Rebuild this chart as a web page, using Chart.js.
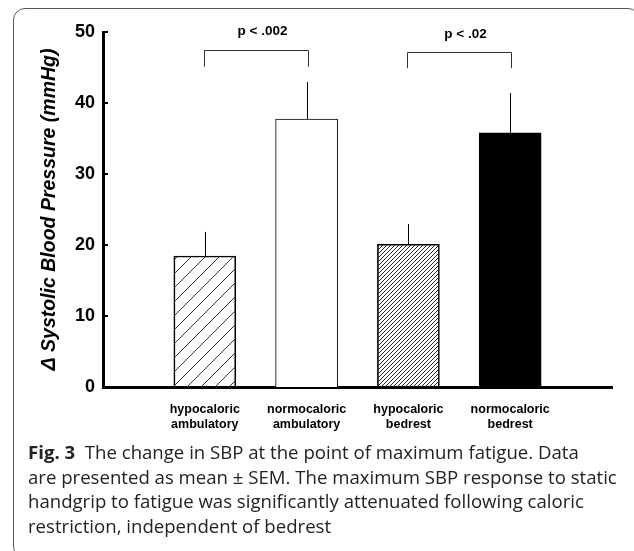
<!DOCTYPE html>
<html><head><meta charset="utf-8">
<script src="https://cdn.jsdelivr.net/npm/chart.js"></script>
<style>
html,body{margin:0;padding:0;background:#fff;width:634px;height:551px;overflow:hidden;}
#frame{position:absolute;left:13px;top:8px;width:627px;height:550px;border:1.5px solid #555;border-radius:12px;box-sizing:border-box;}
#chart{position:absolute;left:0;top:0;}
#cap{position:absolute;left:28px;top:440px;width:610px;white-space:nowrap;font-family:"Open Sans",sans-serif;font-size:18.6px;line-height:24.5px;color:#222;}
#cap b{font-weight:700;}
</style></head>
<body>
<div id="frame"></div>
<canvas id="chart" width="634" height="440"></canvas>
<div id="cap"><b>Fig. 3</b>&nbsp; The change in SBP at the point of maximum fatigue. Data<br>are presented as mean ± SEM. The maximum SBP response to static<br>handgrip to fatigue was significantly attenuated following caloric<br>restriction, independent of bedrest</div>
<script>
const categories = ['', ['hypocaloric','ambulatory'], ['normocaloric','ambulatory'], ['hypocaloric','bedrest'], ['normocaloric','bedrest'], ''];
const meanSBP = [null, 18.45, 37.75, 20.1, 35.8, null];
const semSBP  = [null, 3.4, 5.2, 2.85, 5.6, null];
const yTickValues = [0, 10, 20, 30, 40, 50];
const bracketFrom = [1, 3];
const bracketTo = [2, 4];
const bracketTop = [47.5, 47.2];
const bracketLeg = [45.1, 44.9];
const bracketLabels = ['p < .002', 'p < .02'];
const bracketLabelValue = [50.1, 49.7];

function hatch(size, color, width) {
  const c = document.createElement('canvas');
  c.width = size; c.height = size;
  const g = c.getContext('2d');
  g.strokeStyle = color; g.lineWidth = width;
  g.beginPath();
  g.moveTo(0, size); g.lineTo(size, 0);
  g.moveTo(-1, 1); g.lineTo(1, -1);
  g.moveTo(size - 1, size + 1); g.lineTo(size + 1, size - 1);
  g.stroke();
  return document.getElementById('chart').getContext('2d').createPattern(c, 'repeat');
}
const sparse = hatch(14, '#333', 1);
const dense = hatch(4, '#222', 1);

const overlay = {
  id: 'overlay',
  afterDatasetsDraw(chart) {
    const ctx = chart.ctx, y = chart.scales.y, x = chart.scales.x, area = chart.chartArea;
    const meta = chart.getDatasetMeta(0);
    ctx.save();
    ctx.strokeStyle = '#000'; ctx.lineWidth = 1;
    meanSBP.forEach((m, i) => {
      if (m == null) return;
      const bx = Math.round(meta.data[i].x) + 0.5;
      ctx.beginPath();
      ctx.moveTo(bx, y.getPixelForValue(m));
      ctx.lineTo(bx, y.getPixelForValue(m + semSBP[i]));
      ctx.stroke();
    });
    ctx.lineWidth = 2;
    yTickValues.forEach(v => {
      if (v === 0) return;
      const py = Math.round(y.getPixelForValue(v));
      ctx.beginPath();
      ctx.moveTo(area.left, py); ctx.lineTo(area.left + 5, py);
      ctx.stroke();
    });
    ctx.strokeStyle = '#333'; ctx.lineWidth = 1;
    ctx.fillStyle = '#000';
    ctx.font = 'bold 13.5px Arial, "Liberation Sans", sans-serif';
    ctx.textAlign = 'center'; ctx.textBaseline = 'middle';
    bracketFrom.forEach((f, k) => {
      const x1 = Math.round(x.getPixelForValue(f)) - 0.5;
      const x2 = Math.round(x.getPixelForValue(bracketTo[k])) + 1.5;
      const yt = Math.round(y.getPixelForValue(bracketTop[k])) + 0.5;
      const yl = y.getPixelForValue(bracketLeg[k]);
      ctx.beginPath();
      ctx.moveTo(x1, yl); ctx.lineTo(x1, yt); ctx.lineTo(x2, yt); ctx.lineTo(x2, yl);
      ctx.stroke();
      ctx.fillText(bracketLabels[k], (x1 + x2) / 2 + 6, y.getPixelForValue(bracketLabelValue[k]));
    });
    ctx.restore();
  }
};

new Chart(document.getElementById('chart'), {
  type: 'bar',
  data: {
    labels: categories,
    datasets: [{
      data: meanSBP,
      backgroundColor: [null, sparse, '#fff', dense, '#000', null],
      borderColor: '#000',
      borderWidth: 1,
      barThickness: 62
    }]
  },
  options: {
    responsive: false,
    animation: false,
    events: [],
    layout: { padding: { top: 32, right: 22, left: 0, bottom: 0 } },
    plugins: { legend: { display: false }, tooltip: { enabled: false } },
    scales: {
      x: {
        type: 'category',
        offset: false,
        grid: { display: false, drawTicks: false },
        border: { display: true, width: 3, color: '#000' },
        ticks: { color: '#000', font: { family: 'Arial, "Liberation Sans", sans-serif', weight: 'bold', size: 12.5, lineHeight: 1.2 }, padding: 15, maxRotation: 0, autoSkip: false },
        afterFit: s => { s.height = 53; }
      },
      y: {
        min: 0, max: 50,
        afterBuildTicks: s => { s.ticks = yTickValues.map(v => ({ value: v })); },
        grid: { display: false, drawTicks: false },
        border: { display: true, width: 3, color: '#000' },
        ticks: { color: '#000', font: { family: 'Arial, "Liberation Sans", sans-serif', weight: 'bold', size: 18 }, padding: 8 },
        title: { display: true, text: 'Δ Systolic Blood Pressure (mmHg)', color: '#000', font: { family: 'Arial, "Liberation Sans", sans-serif', weight: 'bold', style: 'italic', size: 19.5 }, padding: { top: 38, bottom: 0 } },
        afterFit: s => { s.width = 103; }
      }
    }
  },
  plugins: [overlay]
});
</script>
</body></html>
